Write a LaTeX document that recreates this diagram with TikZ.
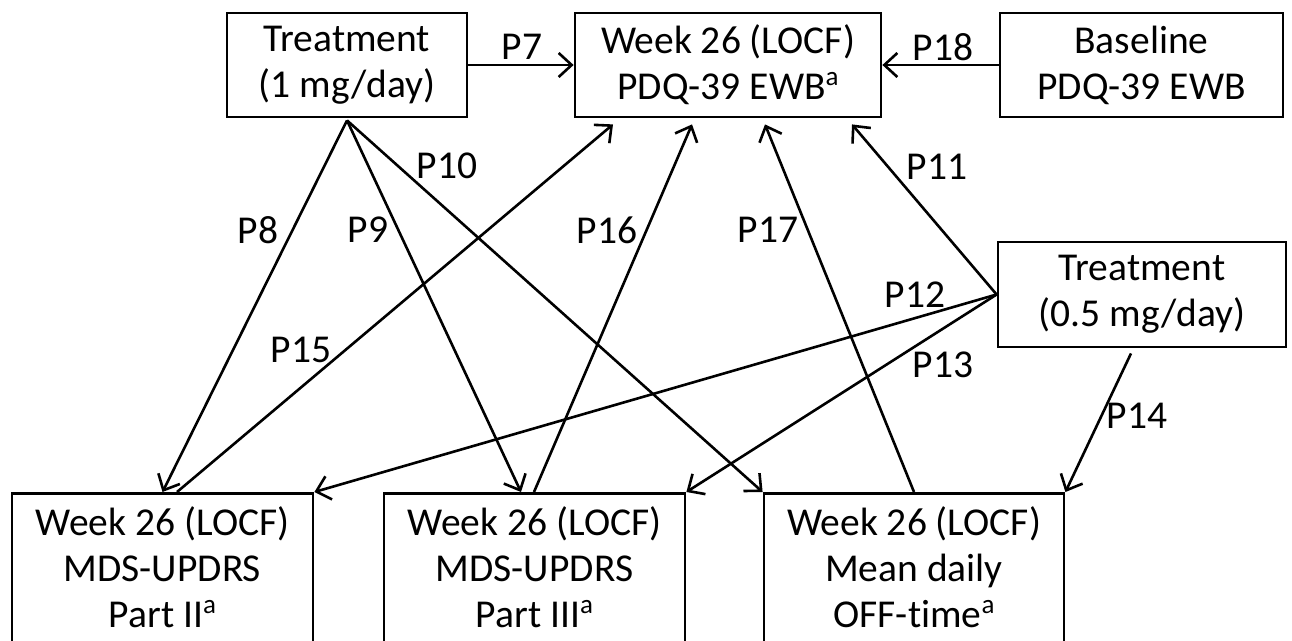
\documentclass[tikz,border=0pt]{standalone}
\usepackage{fontspec}
\setmainfont[Ligatures=NoCommon]{Carlito}
\usetikzlibrary{arrows.meta,calc}
\newcommand\supa{\raisebox{0.36em}{\fontsize{27}{27}\selectfont a}}
\begin{document}
\begin{tikzpicture}[x=1pt,y=-1pt,
  every node/.style={font=\fontsize{39.5}{46}\selectfont},
  box/.style={draw,line width=2.8pt,align=center,inner xsep=0pt,inner ysep=0pt},
  topbox/.style={box,minimum height=104pt},
  botbox/.style={box,anchor=north,inner ysep=13pt},
  conn/.style={line width=2.6pt,-{Straight Barb[length=13pt,width=24pt]}},
  lbl/.style={inner sep=0pt}]
\useasboundingbox (0,0) rectangle (1292,640);
\node[topbox,minimum width=240pt] (t1) at (347,65) {Treatment\\(1 mg/day)};
\node[topbox,minimum width=306pt] (w26) at (728,65) {Week 26 (LOCF)\\PDQ-39 EWB\supa};
\node[topbox,minimum width=283pt] (base) at (1141.5,65) {Baseline\\PDQ-39 EWB};
\node[topbox,minimum width=288pt,minimum height=105pt] (t05) at (1142,294.5) {Treatment\\(0.5 mg/day)};
\node[botbox,minimum width=301pt] (b2) at (162.5,492) {Week 26 (LOCF)\\MDS-UPDRS\\Part II\supa\rule[-24pt]{0pt}{24pt}};
\node[botbox,minimum width=301pt] (b3) at (534.5,492) {Week 26 (LOCF)\\MDS-UPDRS\\Part III\supa\rule[-24pt]{0pt}{24pt}};
\node[botbox,minimum width=300pt] (boff) at (914,492) {Week 26 (LOCF)\\Mean daily\\OFF-time\supa\rule[-24pt]{0pt}{24pt}};
\draw[conn] (t1.east) -- (w26.west);
\draw[conn] (base.west) -- (w26.east);
\draw[conn] ($(t1.south)+(0,2)$) -- (b2.north);
\draw[conn] ($(t1.south)+(0,2)$) -- ($(b3.north)+(-13.5,0)$);
\draw[conn] ($(t1.south)+(0,2)$) -- (boff.north west);
\draw[conn] ($(b2.north)+(14.5,0)$) -- ($(w26.south)+(-115,6)$);
\draw[conn] ($(b3.north)+(-0.5,0)$) -- ($(w26.south)+(-36,6)$);
\draw[conn] (boff.north) -- ($(w26.south)+(37,6)$);
\draw[conn] (t05.west) -- ($(w26.south)+(124,6)$);
\draw[conn] (t05.west) -- (b2.north east);
\draw[conn] (t05.west) -- (b3.north east);
\draw[conn] ($(t05.south)+(-11,5)$) -- (boff.north east);
\node[lbl] (l7) at (522,47) {P7};
\node[lbl] (l18) at (943,47) {P18};
\node[lbl] (l10) at (447,166) {P10};
\node[lbl] (l11) at (937,167) {P11};
\node[lbl] (l8) at (258,230) {P8};
\node[lbl] (l9) at (368,230) {P9};
\node[lbl] (l16) at (607,230) {P16};
\node[lbl] (l17) at (768,230) {P17};
\node[lbl] (l12) at (915,295) {P12};
\node[lbl] (l15) at (301,350) {P15};
\node[lbl] (l13) at (943,365) {P13};
\node[lbl] (l14) at (1137,416) {P14};
\end{tikzpicture}
\end{document}
